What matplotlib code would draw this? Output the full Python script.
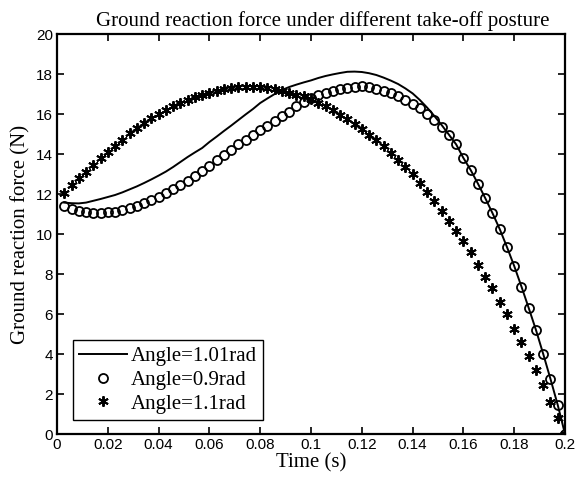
import numpy as np
import matplotlib

matplotlib.use("Agg")
import matplotlib.pyplot as plt

# time samples (s), evenly spaced up to take-off
time_s = np.linspace(0.2 / 70, 0.2, 70)

force_101 = [
    11.57, 11.54, 11.53, 11.57, 11.66, 11.75, 11.85, 11.95, 12.08, 12.23,
    12.38, 12.55, 12.73, 12.92, 13.12, 13.35, 13.60, 13.85, 14.08, 14.30,
    14.60, 14.87, 15.15, 15.42, 15.70, 15.98, 16.25, 16.55, 16.78, 17.00,
    17.20, 17.35, 17.47, 17.58, 17.68, 17.80, 17.90, 17.98, 18.05, 18.11,
    18.12, 18.10, 18.04, 17.95, 17.82, 17.67, 17.50, 17.28, 17.03, 16.70,
    16.32, 15.90, 15.45, 14.97, 14.48, 13.80, 13.20, 12.52, 11.80, 11.05,
    10.25, 9.35, 8.40, 7.37, 6.30, 5.20, 4.00, 2.75, 1.45, 0.00,
]
force_09 = [
    11.40, 11.23, 11.15, 11.08, 11.06, 11.06, 11.08, 11.12, 11.20, 11.28,
    11.40, 11.53, 11.70, 11.87, 12.07, 12.27, 12.45, 12.65, 12.90, 13.15,
    13.42, 13.68, 13.95, 14.22, 14.50, 14.72, 14.95, 15.20, 15.42, 15.65,
    15.90, 16.12, 16.38, 16.62, 16.80, 16.95, 17.03, 17.15, 17.25, 17.32,
    17.37, 17.38, 17.35, 17.27, 17.17, 17.05, 16.90, 16.72, 16.50, 16.28,
    15.98, 15.68, 15.33, 14.93, 14.48, 13.80, 13.20, 12.52, 11.80, 11.05,
    10.25, 9.35, 8.40, 7.37, 6.30, 5.20, 4.00, 2.75, 1.45, 0.00,
]
force_11 = [
    12.05, 12.45, 12.80, 13.10, 13.45, 13.78, 14.10, 14.42, 14.72, 15.05,
    15.30, 15.55, 15.78, 16.00, 16.20, 16.40, 16.56, 16.70, 16.83, 16.95,
    17.07, 17.17, 17.25, 17.30, 17.35, 17.37, 17.37, 17.35, 17.30, 17.24,
    17.15, 17.05, 16.97, 16.88, 16.73, 16.56, 16.38, 16.18, 15.97, 15.74,
    15.50, 15.24, 14.97, 14.68, 14.38, 14.06, 13.72, 13.37, 13.00, 12.55,
    12.10, 11.63, 11.15, 10.66, 10.17, 9.67, 9.10, 8.45, 7.85, 7.30,
    6.62, 6.00, 5.25, 4.58, 3.90, 3.20, 2.45, 1.60, 0.80, 0.00,
]

x_ticks = [0, 0.02, 0.04, 0.06, 0.08, 0.1, 0.12, 0.14, 0.16, 0.18, 0.2]
x_tick_labels = ["0", "0.02", "0.04", "0.06", "0.08", "0.1", "0.12", "0.14", "0.16", "0.18", "0.2"]
y_ticks = list(range(0, 21, 2))

SERIF = "Liberation Serif"
SANS = "Liberation Sans"

fig = plt.figure(figsize=(5.79, 4.82), dpi=100)
ax = fig.add_axes([57 / 579, 1 - 434 / 482, 508 / 579, 400 / 482])

ax.plot(time_s, force_101, color="black", lw=1.4, label="Angle=1.01rad")
ax.plot(time_s, force_09, ls="none", marker="o", ms=6.5, mfc="none", mec="black",
        mew=1.3, label="Angle=0.9rad")
# asterisk marker, like matlab '*'
ax.plot(time_s, force_11, ls="none", marker=(6, 2, 0), ms=7.5, color="black",
        mew=1.4, label="Angle=1.1rad")

ax.set_xlim(0, 0.2)
ax.set_ylim(0, 20)
ax.set_xticks(x_ticks)
ax.set_xticklabels(x_tick_labels)
ax.set_yticks(y_ticks)
ax.tick_params(direction="in", length=5, width=1.2, top=True, right=True,
               labelsize=11, pad=3)
for lab in ax.get_xticklabels() + ax.get_yticklabels():
    lab.set_fontfamily(SANS)
for sp in ax.spines.values():
    sp.set_linewidth(1.6)

ax.set_title("Ground reaction force under different take-off posture",
             fontfamily=SERIF, fontsize=15, pad=6, x=0.524)
ax.set_xlabel("Time (s)", fontfamily=SERIF, fontsize=15, labelpad=1)
ax.set_ylabel("Ground reaction force (N)", fontfamily=SERIF, fontsize=15, labelpad=4)

leg = ax.legend(loc="lower left", bbox_to_anchor=(0.031, 0.035), borderaxespad=0,
                prop={"family": SERIF, "size": 15}, fancybox=False, framealpha=1,
                edgecolor="black", handlelength=2.3, handletextpad=0.2,
                borderpad=0.3, labelspacing=0.2)
leg.get_frame().set_linewidth(1.0)

fig.savefig("out.png", dpi=100)
